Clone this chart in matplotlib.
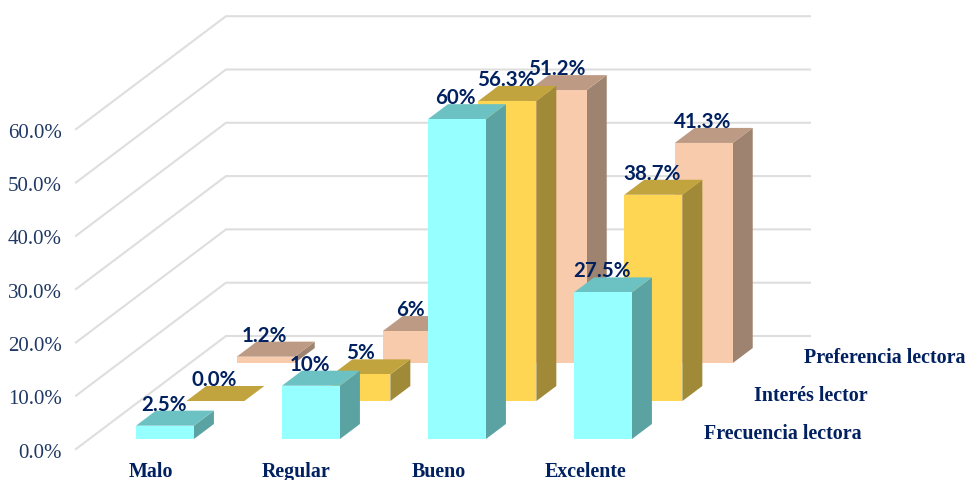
### Imports ###

from matplotlib import pyplot as plt
from matplotlib.patches import Polygon

### Data ###

categories = ['Malo', 'Regular', 'Bueno', 'Excelente']
series_names = ['Frecuencia lectora', 'Interés lector', 'Preferencia lectora']

frecuencia = [2.5, 10.0, 60.0, 27.5]
interes = [0.0, 5.0, 56.3, 38.7]
preferencia = [1.2, 6.0, 51.2, 41.3]

frecuencia_labels = ['2.5%', '10%', '60%', '27.5%']
interes_labels = ['0.0%', '5%', '56.3%', '38.7%']
preferencia_labels = ['1.2%', '6%', '51.2%', '41.3%']

y_ticks = [0, 10, 20, 30, 40, 50, 60]
y_tick_labels = ['0.0%', '10.0%', '20.0%', '30.0%', '40.0%', '50.0%', '60.0%']

### Layout ###

# Oblique projection: one unit of depth moves a point this far in data units
DEPTH_X = 150 / 146
DEPTH_Y = 113 / 5.33
BAR_WIDTH = 58 / 146
BAR_DEPTH = 0.133
FIRST_ROW = 0.0885
ROW_STEP = 0.336
WALL_LEFT = -0.32
WALL_RIGHT = 3.68

# Centres of the category labels are not evenly spaced in the original
CATEGORY_LABEL_X = [0.194, 1.187, 2.166, 3.173]

# (front, top, side)
COLORS = [('#96FFFF', '#6CC2C2', '#5BA2A2'),
          ('#FFD653', '#C2A43F', '#A08937'),
          ('#F8CBAD', '#BC9A84', '#9E8470')]
GRID_COLOR = '#DEDEDE'
TEXT_COLOR = '#002060'
TICK_COLOR = '#1F3864'
SERIF = 'Liberation Serif'

### Functions ###

def project(x, value, depth):
    return x + depth * DEPTH_X, value + depth * DEPTH_Y

def draw_bar(ax, x, value, row, colors, zorder):
    d0 = FIRST_ROW + row * ROW_STEP
    d1 = d0 + BAR_DEPTH
    x1 = x + BAR_WIDTH
    front, top, side = colors

    faces = [
        (side, [project(x1, 0, d0), project(x1, 0, d1), project(x1, value, d1), project(x1, value, d0)]),
        (top, [project(x, value, d0), project(x1, value, d0), project(x1, value, d1), project(x, value, d1)]),
        (front, [project(x, 0, d0), project(x1, 0, d0), project(x1, value, d0), project(x, value, d0)]),
    ]
    for color, points in faces:
        ax.add_patch(Polygon(points, closed = True, facecolor = color, edgecolor = 'none', zorder = zorder))

### Plot ###

fig = plt.figure(figsize=(9.67, 4.81), dpi = 100)
ax = fig.add_axes([0, 0, 1, 1])
ax.set_xlim(-122.7 / 146, (967 - 122.7) / 146)
ax.set_ylim((450 - 481) / 5.33, 450 / 5.33)
ax.axis('off')

# Gridlines run along the left wall and then across the back wall
for tick in y_ticks:
    x0, y0 = project(WALL_LEFT, tick, 0)
    x1, y1 = project(WALL_LEFT, tick, 1)
    x2, y2 = project(WALL_RIGHT, tick, 1)
    ax.plot([x0, x1, x2], [y0, y1, y2], color = GRID_COLOR, lw = 1.5, zorder = 1, solid_joinstyle = 'miter')

# Y axis labels
for tick, label in zip(y_ticks, y_tick_labels):
    ax.annotate(label, project(WALL_LEFT, tick, 0), xytext = (-10, -2.2), textcoords = 'offset points',
                ha = 'right', va = 'center', family = SERIF, fontsize = 15, color = TICK_COLOR)

rows = [frecuencia, interes, preferencia]
row_labels = [frecuencia_labels, interes_labels, preferencia_labels]

# Back row first so the front rows cover it
for row in [2, 1, 0]:
    for cat, value in enumerate(rows[row]):
        draw_bar(ax, cat, value, row, COLORS[row], zorder = 5 + (2 - row) * 5 + cat * 0.1)

# Data labels
for row in range(3):
    for cat, (value, label) in enumerate(zip(rows[row], row_labels[row])):
        point = project(cat + BAR_WIDTH / 2, value, FIRST_ROW + row * ROW_STEP)
        ax.annotate(label, point, xytext = (-1, 15.8), textcoords = 'offset points', ha = 'center', va = 'center',
                    family = 'Lato', fontweight = 'bold', fontsize = 14.8, color = TEXT_COLOR, zorder = 30)

# Category labels, on a common baseline and kept just inside the bottom edge
for pos, label in zip(CATEGORY_LABEL_X, categories):
    ax.annotate(label, project(pos, 0, 0), xytext = (0, -19.1), textcoords = 'offset points', ha = 'center', va = 'baseline',
                family = SERIF, fontweight = 'bold', fontsize = 14.4, color = TEXT_COLOR)

# Series labels sit at the right end of each row
for row, label in enumerate(series_names):
    point = project(3.888, 0, FIRST_ROW + row * ROW_STEP)
    ax.annotate(label, point, xytext = (0, 4.3), textcoords = 'offset points', ha = 'left', va = 'center',
                family = SERIF, fontweight = 'bold', fontsize = 14.4, color = TEXT_COLOR)

fig.savefig('out.png', dpi = 100)
